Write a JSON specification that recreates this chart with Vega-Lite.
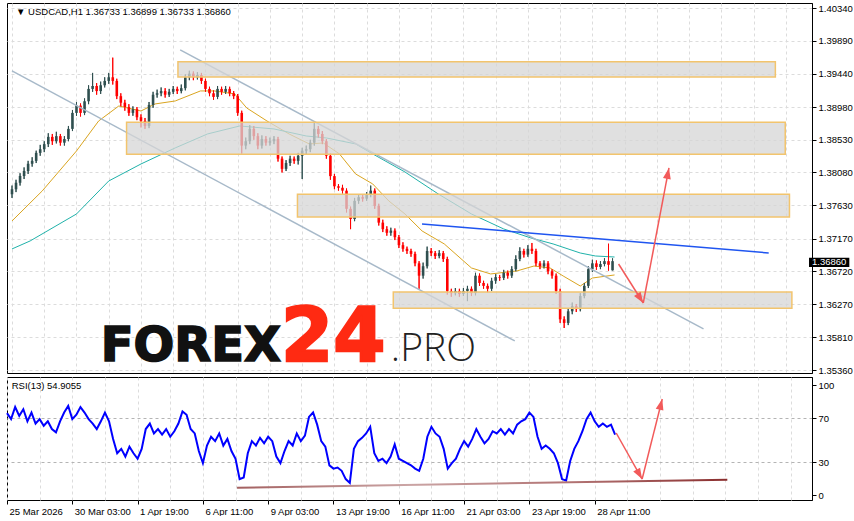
{
"$schema":"https://vega.github.io/schema/vega-lite/v6.json",
"padding":{"left":2,"top":2,"right":0,"bottom":0},
"background":"#ffffff",
"bounds":"flush",
"config":{
  "view":{"stroke":"#000000","strokeWidth":1},
  "axis":{"title":null,"labelFont":"Liberation Sans","labelFontSize":9.5,"labelColor":"#000000","tickColor":"#000000","domainColor":"#000000","gridColor":"#dcdcdc","gridDash":[3,3],"gridWidth":1,"labelFlush":false,"labelOverlap":false,"labelBound":false}
},
"datasets":{
"candles":[
{"i":0,"o":1.3778,"h":1.3790,"l":1.3773,"c":1.3785},
{"i":4,"o":1.3785,"h":1.3798,"l":1.3781,"c":1.3794},
{"i":8,"o":1.3794,"h":1.3807,"l":1.3790,"c":1.3803},
{"i":12,"o":1.3803,"h":1.3815,"l":1.3799,"c":1.3810},
{"i":16,"o":1.3810,"h":1.3824,"l":1.3806,"c":1.3820},
{"i":20,"o":1.3820,"h":1.3829,"l":1.3816,"c":1.3824},
{"i":24,"o":1.3824,"h":1.3838,"l":1.3821,"c":1.3835},
{"i":28,"o":1.3835,"h":1.3846,"l":1.3831,"c":1.3840},
{"i":32,"o":1.3840,"h":1.3851,"l":1.3836,"c":1.3847},
{"i":36,"o":1.3847,"h":1.3862,"l":1.3843,"c":1.3857},
{"i":40,"o":1.3857,"h":1.3861,"l":1.3846,"c":1.3851},
{"i":44,"o":1.3851,"h":1.3864,"l":1.3848,"c":1.3858},
{"i":48,"o":1.3858,"h":1.3861,"l":1.3845,"c":1.3849},
{"i":52,"o":1.3849,"h":1.3858,"l":1.3845,"c":1.3854},
{"i":56,"o":1.3854,"h":1.3872,"l":1.3851,"c":1.3868},
{"i":60,"o":1.3868,"h":1.3894,"l":1.3865,"c":1.3890},
{"i":64,"o":1.3890,"h":1.3905,"l":1.3886,"c":1.3900},
{"i":68,"o":1.3900,"h":1.3903,"l":1.3885,"c":1.3890},
{"i":72,"o":1.3890,"h":1.3910,"l":1.3887,"c":1.3906},
{"i":76,"o":1.3906,"h":1.3928,"l":1.3902,"c":1.3923},
{"i":80,"o":1.3923,"h":1.3945,"l":1.3919,"c":1.3927},
{"i":84,"o":1.3927,"h":1.3931,"l":1.3915,"c":1.3920},
{"i":88,"o":1.3920,"h":1.3933,"l":1.3916,"c":1.3928},
{"i":92,"o":1.3928,"h":1.3939,"l":1.3925,"c":1.3934},
{"i":96,"o":1.3934,"h":1.3945,"l":1.3930,"c":1.3939},
{"i":100,"o":1.3939,"h":1.3966,"l":1.3929,"c":1.3934},
{"i":104,"o":1.3934,"h":1.3937,"l":1.3909,"c":1.3913},
{"i":108,"o":1.3913,"h":1.3917,"l":1.3899,"c":1.3904},
{"i":112,"o":1.3904,"h":1.3908,"l":1.3893,"c":1.3898},
{"i":116,"o":1.3898,"h":1.3902,"l":1.3886,"c":1.3890},
{"i":120,"o":1.3890,"h":1.3899,"l":1.3886,"c":1.3895},
{"i":124,"o":1.3895,"h":1.3898,"l":1.3880,"c":1.3884},
{"i":128,"o":1.3884,"h":1.3888,"l":1.3870,"c":1.3879},
{"i":132,"o":1.3879,"h":1.3883,"l":1.3868,"c":1.3872},
{"i":136,"o":1.3872,"h":1.3905,"l":1.3869,"c":1.3901},
{"i":140,"o":1.3901,"h":1.3919,"l":1.3897,"c":1.3915},
{"i":144,"o":1.3915,"h":1.3922,"l":1.3911,"c":1.3917},
{"i":148,"o":1.3917,"h":1.3925,"l":1.3913,"c":1.3920},
{"i":152,"o":1.3920,"h":1.3924,"l":1.3911,"c":1.3915},
{"i":156,"o":1.3915,"h":1.3923,"l":1.3912,"c":1.3919},
{"i":160,"o":1.3919,"h":1.3927,"l":1.3916,"c":1.3923},
{"i":164,"o":1.3923,"h":1.3926,"l":1.3916,"c":1.3920},
{"i":168,"o":1.3920,"h":1.3929,"l":1.3917,"c":1.3924},
{"i":172,"o":1.3924,"h":1.3943,"l":1.3921,"c":1.3939},
{"i":176,"o":1.3939,"h":1.3948,"l":1.3935,"c":1.3944},
{"i":180,"o":1.3944,"h":1.3947,"l":1.3935,"c":1.3939},
{"i":184,"o":1.3939,"h":1.3946,"l":1.3936,"c":1.3942},
{"i":188,"o":1.3942,"h":1.3945,"l":1.3930,"c":1.3934},
{"i":192,"o":1.3934,"h":1.3937,"l":1.3919,"c":1.3923},
{"i":196,"o":1.3923,"h":1.3926,"l":1.3913,"c":1.3917},
{"i":200,"o":1.3917,"h":1.3921,"l":1.3908,"c":1.3912},
{"i":204,"o":1.3912,"h":1.3927,"l":1.3909,"c":1.3923},
{"i":208,"o":1.3923,"h":1.3926,"l":1.3915,"c":1.3919},
{"i":212,"o":1.3919,"h":1.3927,"l":1.3916,"c":1.3923},
{"i":216,"o":1.3923,"h":1.3926,"l":1.3913,"c":1.3917},
{"i":220,"o":1.3917,"h":1.3920,"l":1.3909,"c":1.3913},
{"i":224,"o":1.3913,"h":1.3916,"l":1.3886,"c":1.3890},
{"i":228,"o":1.3890,"h":1.3893,"l":1.3834,"c":1.3845},
{"i":232,"o":1.3845,"h":1.3856,"l":1.3840,"c":1.3851},
{"i":236,"o":1.3851,"h":1.3873,"l":1.3847,"c":1.3868},
{"i":240,"o":1.3868,"h":1.3872,"l":1.3853,"c":1.3858},
{"i":244,"o":1.3858,"h":1.3862,"l":1.3840,"c":1.3845},
{"i":248,"o":1.3845,"h":1.3859,"l":1.3841,"c":1.3854},
{"i":252,"o":1.3854,"h":1.3858,"l":1.3845,"c":1.3849},
{"i":256,"o":1.3849,"h":1.3856,"l":1.3845,"c":1.3851},
{"i":260,"o":1.3851,"h":1.3858,"l":1.3847,"c":1.3854},
{"i":264,"o":1.3854,"h":1.3857,"l":1.3823,"c":1.3827},
{"i":268,"o":1.3827,"h":1.3830,"l":1.3808,"c":1.3813},
{"i":272,"o":1.3813,"h":1.3825,"l":1.3810,"c":1.3821},
{"i":276,"o":1.3821,"h":1.3831,"l":1.3817,"c":1.3827},
{"i":280,"o":1.3827,"h":1.3830,"l":1.3820,"c":1.3824},
{"i":284,"o":1.3824,"h":1.3835,"l":1.3819,"c":1.3831},
{"i":288,"o":1.3831,"h":1.3842,"l":1.3799,"c":1.3838},
{"i":292,"o":1.3838,"h":1.3845,"l":1.3833,"c":1.3840},
{"i":296,"o":1.3840,"h":1.3853,"l":1.3836,"c":1.3849},
{"i":300,"o":1.3849,"h":1.3876,"l":1.3845,"c":1.3868},
{"i":304,"o":1.3868,"h":1.3872,"l":1.3856,"c":1.3861},
{"i":308,"o":1.3861,"h":1.3865,"l":1.3847,"c":1.3851},
{"i":312,"o":1.3851,"h":1.3854,"l":1.3827,"c":1.3831},
{"i":316,"o":1.3831,"h":1.3834,"l":1.3798,"c":1.3803},
{"i":320,"o":1.3803,"h":1.3806,"l":1.3785,"c":1.3789},
{"i":324,"o":1.3789,"h":1.3792,"l":1.3783,"c":1.3787},
{"i":328,"o":1.3787,"h":1.3791,"l":1.3779,"c":1.3783},
{"i":332,"o":1.3783,"h":1.3786,"l":1.3753,"c":1.3758},
{"i":336,"o":1.3758,"h":1.3761,"l":1.3730,"c":1.3744},
{"i":340,"o":1.3744,"h":1.3773,"l":1.3741,"c":1.3769},
{"i":344,"o":1.3769,"h":1.3778,"l":1.3765,"c":1.3774},
{"i":348,"o":1.3774,"h":1.3777,"l":1.3768,"c":1.3772},
{"i":352,"o":1.3772,"h":1.3781,"l":1.3769,"c":1.3777},
{"i":356,"o":1.3777,"h":1.3790,"l":1.3774,"c":1.3783},
{"i":360,"o":1.3783,"h":1.3786,"l":1.3758,"c":1.3762},
{"i":364,"o":1.3762,"h":1.3765,"l":1.3735,"c":1.3739},
{"i":368,"o":1.3739,"h":1.3743,"l":1.3726,"c":1.3730},
{"i":372,"o":1.3730,"h":1.3734,"l":1.3721,"c":1.3725},
{"i":376,"o":1.3725,"h":1.3732,"l":1.3721,"c":1.3728},
{"i":380,"o":1.3728,"h":1.3731,"l":1.3715,"c":1.3719},
{"i":384,"o":1.3719,"h":1.3722,"l":1.3704,"c":1.3708},
{"i":388,"o":1.3708,"h":1.3712,"l":1.3699,"c":1.3703},
{"i":392,"o":1.3703,"h":1.3706,"l":1.3696,"c":1.3700},
{"i":396,"o":1.3700,"h":1.3703,"l":1.3692,"c":1.3696},
{"i":400,"o":1.3696,"h":1.3699,"l":1.3679,"c":1.3683},
{"i":404,"o":1.3683,"h":1.3686,"l":1.3648,"c":1.3666},
{"i":408,"o":1.3666,"h":1.3684,"l":1.3662,"c":1.3679},
{"i":412,"o":1.3679,"h":1.3706,"l":1.3676,"c":1.3700},
{"i":416,"o":1.3700,"h":1.3704,"l":1.3693,"c":1.3697},
{"i":420,"o":1.3697,"h":1.3700,"l":1.3689,"c":1.3693},
{"i":424,"o":1.3693,"h":1.3701,"l":1.3690,"c":1.3697},
{"i":428,"o":1.3697,"h":1.3700,"l":1.3685,"c":1.3689},
{"i":432,"o":1.3689,"h":1.3692,"l":1.3640,"c":1.3645},
{"i":436,"o":1.3645,"h":1.3648,"l":1.3637,"c":1.3642},
{"i":440,"o":1.3642,"h":1.3649,"l":1.3639,"c":1.3645},
{"i":444,"o":1.3645,"h":1.3648,"l":1.3637,"c":1.3641},
{"i":448,"o":1.3641,"h":1.3649,"l":1.3638,"c":1.3645},
{"i":452,"o":1.3645,"h":1.3652,"l":1.3631,"c":1.3648},
{"i":456,"o":1.3648,"h":1.3651,"l":1.3638,"c":1.3642},
{"i":460,"o":1.3642,"h":1.3670,"l":1.3639,"c":1.3666},
{"i":464,"o":1.3666,"h":1.3669,"l":1.3652,"c":1.3656},
{"i":468,"o":1.3656,"h":1.3659,"l":1.3648,"c":1.3652},
{"i":472,"o":1.3652,"h":1.3655,"l":1.3643,"c":1.3648},
{"i":476,"o":1.3648,"h":1.3663,"l":1.3645,"c":1.3659},
{"i":480,"o":1.3659,"h":1.3668,"l":1.3655,"c":1.3664},
{"i":484,"o":1.3664,"h":1.3667,"l":1.3659,"c":1.3663},
{"i":488,"o":1.3663,"h":1.3674,"l":1.3660,"c":1.3670},
{"i":492,"o":1.3670,"h":1.3673,"l":1.3662,"c":1.3666},
{"i":496,"o":1.3666,"h":1.3679,"l":1.3663,"c":1.3675},
{"i":500,"o":1.3675,"h":1.3694,"l":1.3672,"c":1.3689},
{"i":504,"o":1.3689,"h":1.3705,"l":1.3686,"c":1.3700},
{"i":508,"o":1.3700,"h":1.3703,"l":1.3691,"c":1.3695},
{"i":512,"o":1.3695,"h":1.3708,"l":1.3692,"c":1.3703},
{"i":516,"o":1.3703,"h":1.3711,"l":1.3696,"c":1.3700},
{"i":520,"o":1.3700,"h":1.3703,"l":1.3679,"c":1.3683},
{"i":524,"o":1.3683,"h":1.3686,"l":1.3675,"c":1.3679},
{"i":528,"o":1.3679,"h":1.3687,"l":1.3676,"c":1.3683},
{"i":532,"o":1.3683,"h":1.3686,"l":1.3668,"c":1.3672},
{"i":536,"o":1.3672,"h":1.3675,"l":1.3662,"c":1.3666},
{"i":540,"o":1.3666,"h":1.3669,"l":1.3641,"c":1.3645},
{"i":544,"o":1.3645,"h":1.3648,"l":1.3601,"c":1.3606},
{"i":548,"o":1.3606,"h":1.3610,"l":1.3594,"c":1.3601},
{"i":552,"o":1.3601,"h":1.3621,"l":1.3598,"c":1.3617},
{"i":556,"o":1.3617,"h":1.3629,"l":1.3613,"c":1.3624},
{"i":560,"o":1.3624,"h":1.3627,"l":1.3616,"c":1.3620},
{"i":564,"o":1.3620,"h":1.3642,"l":1.3617,"c":1.3638},
{"i":568,"o":1.3638,"h":1.3656,"l":1.3635,"c":1.3652},
{"i":572,"o":1.3652,"h":1.3679,"l":1.3649,"c":1.3675},
{"i":576,"o":1.3675,"h":1.3688,"l":1.3671,"c":1.3683},
{"i":580,"o":1.3683,"h":1.3687,"l":1.3674,"c":1.3678},
{"i":584,"o":1.3678,"h":1.3686,"l":1.3675,"c":1.3682},
{"i":588,"o":1.3682,"h":1.3690,"l":1.3679,"c":1.3686},
{"i":592,"o":1.3686,"h":1.3710,"l":1.3673,"c":1.3681},
{"i":596,"o":1.36733,"h":1.36899,"l":1.36733,"c":1.3686}
],
"rsi":[{"i":0,"v":74.5},{"i":4,"v":69},{"i":8,"v":80},{"i":12,"v":72},{"i":16,"v":78},{"i":20,"v":67},{"i":24,"v":75},{"i":28,"v":65},{"i":32,"v":69},{"i":36,"v":63},{"i":40,"v":67},{"i":44,"v":60},{"i":48,"v":57},{"i":52,"v":67},{"i":56,"v":75},{"i":60,"v":81},{"i":64,"v":69},{"i":68,"v":73},{"i":72,"v":80},{"i":76,"v":75},{"i":80,"v":69},{"i":84,"v":65},{"i":88,"v":60},{"i":92,"v":67},{"i":96,"v":75},{"i":100,"v":67},{"i":104,"v":51},{"i":108,"v":38},{"i":112,"v":42},{"i":116,"v":35},{"i":120,"v":44},{"i":124,"v":38},{"i":128,"v":33},{"i":132,"v":42},{"i":136,"v":60},{"i":140,"v":65},{"i":144,"v":56},{"i":148,"v":60},{"i":152,"v":55},{"i":156,"v":60},{"i":160,"v":53},{"i":164,"v":58},{"i":168,"v":65},{"i":172,"v":76},{"i":176,"v":73},{"i":180,"v":60},{"i":184,"v":56},{"i":188,"v":40},{"i":192,"v":29},{"i":196,"v":45},{"i":200,"v":53},{"i":204,"v":49},{"i":208,"v":56},{"i":212,"v":45},{"i":216,"v":51},{"i":220,"v":40},{"i":224,"v":33},{"i":228,"v":14.5},{"i":232,"v":16},{"i":236,"v":38},{"i":240,"v":49},{"i":244,"v":45},{"i":248,"v":52},{"i":252,"v":47},{"i":256,"v":53},{"i":260,"v":49},{"i":264,"v":35},{"i":268,"v":29},{"i":272,"v":40},{"i":276,"v":49},{"i":280,"v":45},{"i":284,"v":56},{"i":288,"v":49},{"i":292,"v":54},{"i":296,"v":71},{"i":300,"v":75},{"i":304,"v":64},{"i":308,"v":49},{"i":312,"v":44},{"i":316,"v":27},{"i":320,"v":24},{"i":324,"v":25},{"i":328,"v":22},{"i":332,"v":14.5},{"i":336,"v":11},{"i":340,"v":42},{"i":344,"v":49},{"i":348,"v":52},{"i":352,"v":56},{"i":356,"v":62},{"i":360,"v":38},{"i":364,"v":31},{"i":368,"v":33},{"i":372,"v":29},{"i":376,"v":35},{"i":380,"v":46},{"i":384,"v":33},{"i":388,"v":31},{"i":392,"v":29},{"i":396,"v":27},{"i":400,"v":24},{"i":404,"v":22},{"i":408,"v":33},{"i":412,"v":53},{"i":416,"v":62},{"i":420,"v":56},{"i":424,"v":53},{"i":428,"v":42},{"i":432,"v":24},{"i":436,"v":29},{"i":440,"v":33},{"i":444,"v":42},{"i":448,"v":49},{"i":452,"v":44},{"i":456,"v":51},{"i":460,"v":60},{"i":464,"v":53},{"i":468,"v":47},{"i":472,"v":51},{"i":476,"v":58},{"i":480,"v":56},{"i":484,"v":60},{"i":488,"v":55},{"i":492,"v":60},{"i":496,"v":56},{"i":500,"v":64},{"i":504,"v":67},{"i":508,"v":69},{"i":512,"v":75},{"i":516,"v":71},{"i":520,"v":53},{"i":524,"v":42},{"i":528,"v":45},{"i":532,"v":42},{"i":536,"v":38},{"i":540,"v":29},{"i":544,"v":14.5},{"i":548,"v":13},{"i":552,"v":31},{"i":556,"v":42},{"i":560,"v":49},{"i":564,"v":58},{"i":568,"v":69},{"i":572,"v":75},{"i":576,"v":67},{"i":580,"v":62},{"i":584,"v":65},{"i":588,"v":62},{"i":592,"v":64},{"i":596,"v":54.9}],
"ma":[
{"s":"fast","i":0,"v":1.37413},{"s":"fast","i":30,"v":1.37826},{"s":"fast","i":64,"v":1.38376},{"s":"fast","i":86,"v":1.38789},{"s":"fast","i":106,"v":1.38995},{"s":"fast","i":128,"v":1.38926},{"s":"fast","i":142,"v":1.39023},{"s":"fast","i":162,"v":1.39064},{"s":"fast","i":187,"v":1.39202},{"s":"fast","i":201,"v":1.39202},{"s":"fast","i":221,"v":1.39161},{"s":"fast","i":233,"v":1.38967},{"s":"fast","i":253,"v":1.38789},{"s":"fast","i":275,"v":1.38610},{"s":"fast","i":295,"v":1.38473},{"s":"fast","i":309,"v":1.38486},{"s":"fast","i":325,"v":1.38335},{"s":"fast","i":341,"v":1.38060},{"s":"fast","i":358,"v":1.37922},{"s":"fast","i":374,"v":1.37688},{"s":"fast","i":390,"v":1.37509},{"s":"fast","i":407,"v":1.37275},{"s":"fast","i":429,"v":1.37097},{"s":"fast","i":456,"v":1.36766},{"s":"fast","i":475,"v":1.36684},{"s":"fast","i":501,"v":1.36725},{"s":"fast","i":518,"v":1.36793},{"s":"fast","i":534,"v":1.36766},{"s":"fast","i":547,"v":1.36656},{"s":"fast","i":564,"v":1.36518},{"s":"fast","i":576,"v":1.36628},{"s":"fast","i":598,"v":1.36670},
{"s":"slow","i":0,"v":1.37028},{"s":"slow","i":18,"v":1.37138},{"s":"slow","i":64,"v":1.37509},{"s":"slow","i":96,"v":1.37963},{"s":"slow","i":128,"v":1.38197},{"s":"slow","i":162,"v":1.38418},{"s":"slow","i":194,"v":1.38610},{"s":"slow","i":226,"v":1.38720},{"s":"slow","i":260,"v":1.38679},{"s":"slow","i":292,"v":1.38582},{"s":"slow","i":312,"v":1.38555},{"s":"slow","i":341,"v":1.38473},{"s":"slow","i":358,"v":1.38335},{"s":"slow","i":390,"v":1.38087},{"s":"slow","i":423,"v":1.37785},{"s":"slow","i":456,"v":1.37509},{"s":"slow","i":488,"v":1.37303},{"s":"slow","i":515,"v":1.37179},{"s":"slow","i":537,"v":1.37097},{"s":"slow","i":564,"v":1.36972},{"s":"slow","i":579,"v":1.36931},{"s":"slow","i":598,"v":1.36917}
],
"zones":[
{"i1":164.7,"i2":757.6,"p1":1.39605,"p2":1.39394},
{"i1":113.7,"i2":767.4,"p1":1.38771,"p2":1.38331},
{"i1":283.3,"i2":771.6,"p1":1.37780,"p2":1.37468},
{"i1":378.4,"i2":774.0,"p1":1.36436,"p2":1.36212}
],
"lines":[
{"name":"ch1","i":166.9,"p":1.39766},{"name":"ch1","i":686.3,"p":1.35927},
{"name":"ch2","i":0,"p":1.39477},{"name":"ch2","i":499,"p":1.35762},
{"name":"blue","i":406.9,"p":1.37372},{"name":"blue","i":751,"p":1.36972},
{"name":"a1","i":602,"p":1.36821},{"name":"a1","i":626.5,"p":1.36284},
{"name":"a2","i":626.5,"p":1.36284},{"name":"a2","i":652,"p":1.38142}
],
"rlines":[
{"name":"sup","i":225.5,"v":6.7},{"name":"sup","i":706,"v":13.8},
{"name":"r1","i":597.1,"v":56.4},{"name":"r1","i":622.5,"v":14.5},
{"name":"r2","i":622.5,"v":14.5},{"name":"r2","i":642.2,"v":87.3}
]
},
"spacing":4,
"vconcat":[
{
 "width":805,"height":370,
 "layer":[
  {"data":{"name":"candles"},"mark":{"type":"rule","strokeWidth":1},
   "encoding":{
    "x":{"field":"i","type":"quantitative","scale":{"domain":[0,789],"nice":false,"zero":false},
         "axis":{"values":[0,32,64,96,128,160,192,224,256,288,320,352,384,416,448,480,512,544,576,608,640,672,704,736,768],"tickCount":40,"labels":false,"ticks":false,"domain":false,"grid":true}},
    "y":{"field":"l","type":"quantitative","scale":{"domain":[1.35321,1.40412],"nice":false,"zero":false},
         "axis":{"orient":"right","values":[1.3536,1.3581,1.3627,1.3672,1.3717,1.3763,1.3808,1.3853,1.3898,1.3944,1.3989,1.4034],"tickCount":30,"format":".5f","tickSize":4,"labelPadding":2,"grid":true,"labelOverlap":false}},
    "y2":{"field":"h"},
    "color":{"condition":{"test":"datum.c >= datum.o","value":"#2f4f4f"},"value":"#ff0000"}}},
  {"mark":{"type":"rule","color":"#cfcfcf","strokeWidth":1},
   "encoding":{"y":{"datum":1.3686,"type":"quantitative"}}},
  {"data":{"name":"ma"},"transform":[{"filter":"datum.s == 'fast'"}],
   "mark":{"type":"line","color":"#daa520","strokeWidth":1},
   "encoding":{"x":{"field":"i","type":"quantitative"},"y":{"field":"v","type":"quantitative"}}},
  {"data":{"name":"ma"},"transform":[{"filter":"datum.s == 'slow'"}],
   "mark":{"type":"line","color":"#20b2aa","strokeWidth":1},
   "encoding":{"x":{"field":"i","type":"quantitative"},"y":{"field":"v","type":"quantitative"}}},
  {"data":{"name":"candles"},"mark":{"type":"rule","strokeWidth":1},
   "encoding":{"x":{"field":"i","type":"quantitative"},"y":{"field":"l","type":"quantitative"},"y2":{"field":"h"},
    "color":{"condition":{"test":"datum.c >= datum.o","value":"#2f4f4f"},"value":"#ff0000"}}},
  {"data":{"name":"candles"},"mark":{"type":"bar","size":2.6},
   "encoding":{"x":{"field":"i","type":"quantitative"},"y":{"field":"o","type":"quantitative"},"y2":{"field":"c"},
    "color":{"condition":{"test":"datum.c >= datum.o","value":"#2f4f4f"},"value":"#ff0000"}}},
  {"data":{"name":"lines"},"transform":[{"filter":"datum.name == 'ch1' || datum.name == 'ch2'"}],
   "mark":{"type":"line","color":"#a7b9c9","strokeWidth":1.5},
   "encoding":{"x":{"field":"i","type":"quantitative"},"y":{"field":"p","type":"quantitative"},"detail":{"field":"name"}}},
  {"data":{"name":"zones"},"mark":{"type":"rect","fill":"#d6d6d6","fillOpacity":0.75,"stroke":"#f2c46d","strokeWidth":1.5},
   "encoding":{"x":{"field":"i1","type":"quantitative"},"x2":{"field":"i2"},"y":{"field":"p1","type":"quantitative"},"y2":{"field":"p2"}}},
  {"data":{"name":"lines"},"transform":[{"filter":"datum.name == 'blue'"}],
   "mark":{"type":"line","color":"#1f55f0","strokeWidth":1.5},
   "encoding":{"x":{"field":"i","type":"quantitative"},"y":{"field":"p","type":"quantitative"}}},
  {"data":{"name":"lines"},"transform":[{"filter":"datum.name == 'a1' || datum.name == 'a2'"}],
   "mark":{"type":"line","color":"#f25a5a","strokeWidth":1.5},
   "encoding":{"x":{"field":"i","type":"quantitative"},"y":{"field":"p","type":"quantitative"},"detail":{"field":"name"}}},
  {"data":{"values":[{"i":626.5,"p":1.36284}]},
   "mark":{"type":"point","shape":"M0,0L0.36,1L-0.36,1Z","filled":true,"size":480,"angle":147,"color":"#f25a5a","opacity":1,"strokeWidth":0},
   "encoding":{"x":{"field":"i","type":"quantitative"},"y":{"field":"p","type":"quantitative"}}},
  {"data":{"values":[{"i":652,"p":1.38142}]},
   "mark":{"type":"point","shape":"M0,0L0.36,1L-0.36,1Z","filled":true,"size":480,"angle":11,"color":"#f25a5a","opacity":1,"strokeWidth":0},
   "encoding":{"x":{"field":"i","type":"quantitative"},"y":{"field":"p","type":"quantitative"}}},
  {"data":{"values":[{"t":"FOREX","i":88,"p":1.35486}]},
   "mark":{"type":"text","font":"DejaVu Sans","fontWeight":"bold","fontSize":48,"align":"left","baseline":"alphabetic","color":"#111111","stroke":"#111111","strokeWidth":1.6},
   "encoding":{"x":{"field":"i","type":"quantitative"},"y":{"field":"p","type":"quantitative"},"text":{"field":"t"}}},
  {"data":{"values":[{"t":"24","i":267,"p":1.35486}]},
   "mark":{"type":"text","font":"DejaVu Sans","fontWeight":"bold","fontSize":75,"align":"left","baseline":"alphabetic","color":"#ff2a12","stroke":"#ff2a12","strokeWidth":2.4},
   "encoding":{"x":{"field":"i","type":"quantitative"},"y":{"field":"p","type":"quantitative"},"text":{"field":"t"}}},
  {"data":{"values":[{"t":".PRO","i":376,"p":1.35486}]},
   "mark":{"type":"text","font":"Open Sans","fontWeight":300,"fontSize":39,"align":"left","baseline":"alphabetic","color":"#222222"},
   "encoding":{"x":{"field":"i","type":"quantitative"},"y":{"field":"p","type":"quantitative"},"text":{"field":"t"}}},
  {"data":{"values":[{"t":"▼ USDCAD,H1  1.36733 1.36899 1.36733 1.36860","i":4,"p":1.40247}]},
   "mark":{"type":"text","font":"Liberation Sans","fontSize":9.5,"align":"left","baseline":"alphabetic","color":"#000000"},
   "encoding":{"x":{"field":"i","type":"quantitative"},"y":{"field":"p","type":"quantitative"},"text":{"field":"t"}}},
  {"data":{"values":[{"i1":791,"i2":831,"p1":1.36906,"p2":1.36778}]},
   "mark":{"type":"rect","color":"#000000"},
   "encoding":{"x":{"field":"i1","type":"quantitative"},"x2":{"field":"i2"},"y":{"field":"p1","type":"quantitative"},"y2":{"field":"p2"}}},
  {"data":{"values":[{"t":"1.36860","i":794,"p":1.36842}]},
   "mark":{"type":"text","font":"Liberation Sans","fontSize":9.5,"align":"left","baseline":"middle","color":"#ffffff"},
   "encoding":{"x":{"field":"i","type":"quantitative"},"y":{"field":"p","type":"quantitative"},"text":{"field":"t"}}}
 ]
},
{
 "width":805,"height":123,
 "layer":[
  {"data":{"name":"rsi"},"mark":{"type":"line","color":"#0000ff","strokeWidth":2},
   "encoding":{
    "x":{"field":"i","type":"quantitative","scale":{"domain":[0,789],"nice":false,"zero":false},
         "axis":{"values":[0,32,64,96,128,160,192,224,256,288,320,352,384,416,448,480,512,544,576,608,640,672,704,736,768],"tickCount":40,"grid":true,"domain":false,"tickSize":4,"labelAlign":"left","labelOffset":2,"labelPadding":2,"labelOverlap":false,
          "labelExpr":"['25 Mar 2026','','30 Mar 03:00','','1 Apr 19:00','','6 Apr 11:00','','9 Apr 03:00','','13 Apr 19:00','','16 Apr 11:00','','21 Apr 03:00','','23 Apr 19:00','','28 Apr 11:00','','','','','',''][round(datum.value/32)]",
          "tickOpacity":{"condition":{"test":"datum.value % 64 == 0 && datum.value <= 576","value":1},"value":0}}},
    "y":{"field":"v","type":"quantitative","scale":{"domain":[-4.5,107.3],"nice":false,"zero":false},
         "axis":{"orient":"right","values":[0,30,70,100],"tickCount":10,"tickSize":4,"labelPadding":2,"grid":true,"gridColor":"#b4b4b4","labelOverlap":false,
          "gridOpacity":{"condition":{"test":"datum.value == 30 || datum.value == 70","value":1},"value":0}}}
   }},
  {"data":{"name":"rlines"},"transform":[{"filter":"datum.name == 'sup'"}],
   "mark":{"type":"line","strokeWidth":2,"color":{"gradient":"linear","x1":0,"y1":0,"x2":1,"y2":0,"stops":[{"offset":0,"color":"#a36060"},{"offset":0.35,"color":"#cba5a5"},{"offset":0.7,"color":"#b07070"},{"offset":1,"color":"#8a2e2e"}]}},
   "encoding":{"x":{"field":"i","type":"quantitative"},"y":{"field":"v","type":"quantitative"}}},
  {"data":{"name":"rlines"},"transform":[{"filter":"datum.name == 'r1' || datum.name == 'r2'"}],
   "mark":{"type":"line","color":"#f25a5a","strokeWidth":1.5},
   "encoding":{"x":{"field":"i","type":"quantitative"},"y":{"field":"v","type":"quantitative"},"detail":{"field":"name"}}},
  {"data":{"values":[{"i":622.5,"v":14.5}]},
   "mark":{"type":"point","shape":"M0,0L0.36,1L-0.36,1Z","filled":true,"size":480,"angle":150,"color":"#f25a5a","opacity":1,"strokeWidth":0},
   "encoding":{"x":{"field":"i","type":"quantitative"},"y":{"field":"v","type":"quantitative"}}},
  {"data":{"values":[{"i":642.2,"v":87.3}]},
   "mark":{"type":"point","shape":"M0,0L0.36,1L-0.36,1Z","filled":true,"size":480,"angle":14,"color":"#f25a5a","opacity":1,"strokeWidth":0},
   "encoding":{"x":{"field":"i","type":"quantitative"},"y":{"field":"v","type":"quantitative"}}},
  {"data":{"values":[{"t":"RSI(13) 54.9055","i":4.6,"v":96.4}]},
   "mark":{"type":"text","font":"Liberation Sans","fontSize":9.5,"align":"left","baseline":"alphabetic","color":"#000000"},
   "encoding":{"x":{"field":"i","type":"quantitative"},"y":{"field":"v","type":"quantitative"},"text":{"field":"t"}}}
 ]
}
]
}
